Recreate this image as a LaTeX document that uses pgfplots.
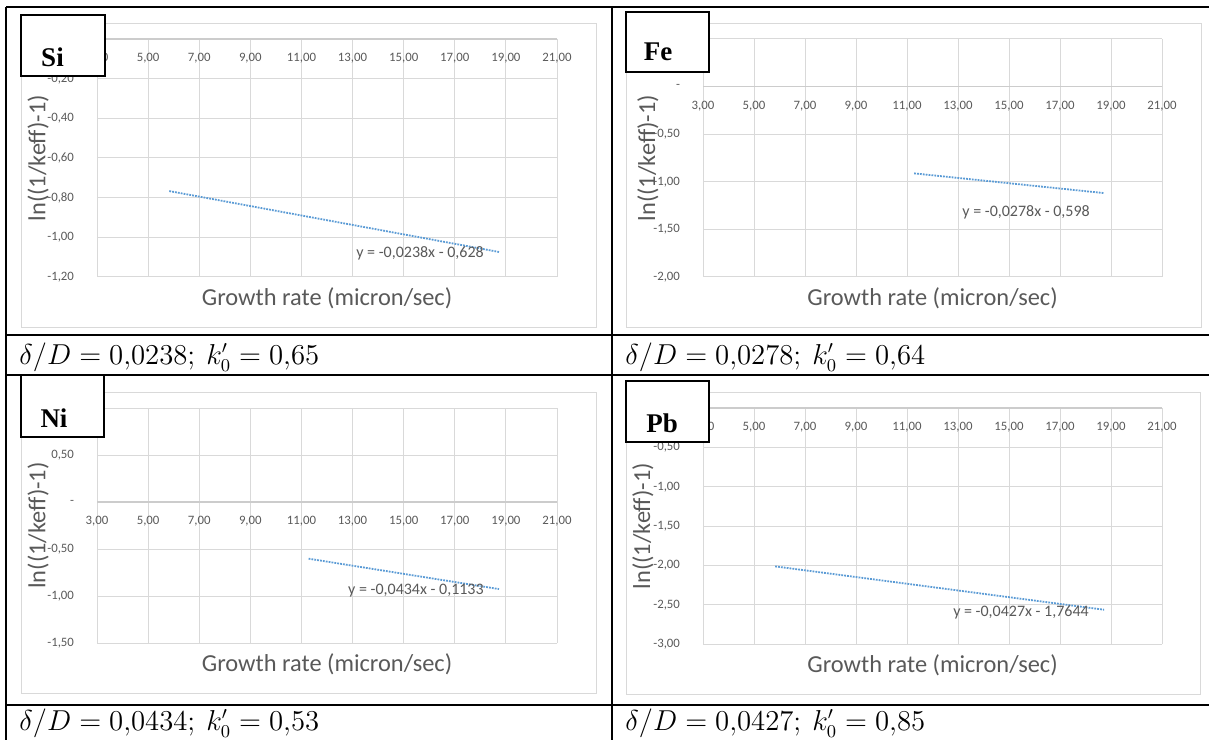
\documentclass[border=0pt]{standalone}
\usepackage{fontspec}
\setmainfont{Carlito}
\newfontfamily\tnr{Liberation Serif}
\usepackage{pgfplots}
\pgfplotsset{compat=1.18}
\definecolor{gridc}{HTML}{D9D9D9}
\definecolor{axisc}{HTML}{CCCCCC}
\definecolor{tickc}{HTML}{595959}
\definecolor{trend}{HTML}{5B9BD5}
\tikzset{eq/.style={font=\fontsize{8}{9.5}\selectfont, text=tickc, inner sep=0pt},
  elem/.style={anchor=base, inner sep=0, font=\tnr\bfseries\fontsize{13.5}{15}\selectfont},
  capt/.style={anchor=base west, inner sep=0, font=\fontsize{13.5}{16}\selectfont}}
\pgfplotsset{
  excel/.style={
    scale only axis,
    enlargelimits=false,
    xmin=3, xmax=21,
    xtick={3,5,...,21},
    xticklabels={{3,00},{5,00},{7,00},{9,00},{11,00},{13,00},{15,00},{17,00},{19,00},{21,00}},
    axis x line=middle,
    axis y line=left,
    x axis line style={-, draw=axisc, line width=0.55pt},
    y axis line style={draw=none},
    grid=major,
    major grid style={draw=gridc, line width=0.5pt},
    major tick length=0pt,
    hide obscured x ticks=false,
    hide obscured y ticks=false,
    tick label style={font=\fontsize{6.4}{7.5}\selectfont, text=tickc},
    xticklabel style={anchor=north, yshift=-3.6pt},
    yticklabel style={anchor=east, xshift=-8pt},
    xlabel={Growth rate (micron/sec)},
    ylabel={ln((1/keff)-1)},
    label style={font=\fontsize{12.2}{14}\selectfont, text=tickc},
    xlabel style={at={(axis description cs:0.5,0)}, anchor=center, yshift=-10.5pt},
    clip=false,
  },
  trendline/.style={trend, line width=0.9pt, dash pattern=on 0.9pt off 0.55pt},
}
\begin{document}
\begin{tikzpicture}[x=0.5pt,y=0.5pt]
\path[use as bounding box] (0,0) rectangle (1209,740);
% chart borders
\draw[gridc, line width=0.5pt] (21,716) rectangle (596,413);
\draw[gridc, line width=0.5pt] (626,716) rectangle (1201,413);
\draw[gridc, line width=0.5pt] (21,348) rectangle (596,47);
\draw[gridc, line width=0.5pt] (626,348) rectangle (1200,46);

% Si
\begin{axis}[excel, at={(48.5pt,231.5pt)}, anchor=south west, width=230pt, height=119pt,
  ymin=-1.2, ymax=0, ytick={-1.2,-1.0,-0.8,-0.6,-0.4,-0.2,0},
  yticklabels={{-1,20},{-1,00},{-0,80},{-0,60},{-0,40},{-0,20},{-}},
  ylabel style={at={(axis description cs:-0.128,0.5)}, anchor=center}]
\addplot[trendline] coordinates {(5.83,-0.7668) (18.73,-1.0738)};
\node[eq] at (axis cs:15.64,-1.079) {y = -0,0238x - 0,628};
\end{axis}

% Fe
\begin{axis}[excel, at={(351.5pt,231.5pt)}, anchor=south west, width=229.5pt, height=119pt,
  ymin=-2, ymax=0.5, ytick={-2,-1.5,-1,-0.5,0,0.5},
  yticklabels={{-2,00},{-1,50},{-1,00},{-0,50},{-},{0,50}},
  ylabel style={at={(axis description cs:-0.12,0.5)}, anchor=center}]
\addplot[trendline] coordinates {(11.28,-0.9116) (18.73,-1.1187)};
\node[eq] at (axis cs:15.67,-1.317) {y = -0,0278x - 0,598};
\end{axis}

% Ni
\begin{axis}[excel, at={(48.5pt,48.5pt)}, anchor=south west, width=230pt, height=117.5pt,
  ymin=-1.5, ymax=1, ytick={-1.5,-1,-0.5,0,0.5,1},
  yticklabels={{-1,50},{-1,00},{-0,50},{-},{0,50},{1,00}},
  ylabel style={at={(axis description cs:-0.128,0.5)}, anchor=center}]
\addplot[trendline] coordinates {(11.28,-0.6029) (18.73,-0.9262)};
\node[eq] at (axis cs:15.48,-0.947) {y = -0,0434x - 0,1133};
\end{axis}

% Pb
\begin{axis}[excel, at={(351.5pt,48pt)}, anchor=south west, width=229.5pt, height=118pt,
  ymin=-3, ymax=0, ytick={-3,-2.5,-2,-1.5,-1,-0.5,0},
  yticklabels={{-3,00},{-2,50},{-2,00},{-1,50},{-1,00},{-0,50},{-}},
  ylabel style={at={(axis description cs:-0.131,0.5)}, anchor=center}]
\addplot[trendline] coordinates {(5.83,-2.0133) (18.73,-2.5642)};
\node[eq] at (axis cs:15.47,-2.593) {y = -0,0427x - 1,7644};
\end{axis}

% table lines
\draw[black, line width=1.3pt] (6,733) -- (1209,733);
\draw[black, line width=1.3pt] (6,733) -- (6,0);
\draw[black, line width=1.3pt] (612,733) -- (612,0);
\draw[black, line width=1.3pt] (6,405) -- (1209,405);
\draw[black, line width=1.3pt] (6,365) -- (1209,365);
\draw[black, line width=1.3pt] (6,35) -- (1209,35);

% element boxes
\draw[black, fill=white, line width=0.7pt] (21,725) rectangle (105,664);
\node[elem] at (52.5,673.3) {Si};
\draw[black, fill=white, line width=0.7pt] (626,728) rectangle (709,668);
\node[elem] at (658,679) {Fe};
\draw[black, fill=white, line width=0.7pt] (21,365) rectangle (104,303);
\node[elem] at (54,313) {Ni};
\draw[black, fill=white, line width=0.7pt] (626,359) rectangle (709,298);
\node[elem] at (662,308) {Pb};

% captions
\node[capt] at (19,376) {$\delta/D = 0{,}0238;\ k_0' = 0{,}65$};
\node[capt] at (625,376) {$\delta/D = 0{,}0278;\ k_0' = 0{,}64$};
\node[capt] at (19,10) {$\delta/D = 0{,}0434;\ k_0' = 0{,}53$};
\node[capt] at (625,10) {$\delta/D = 0{,}0427;\ k_0' = 0{,}85$};
\end{tikzpicture}
\end{document}
